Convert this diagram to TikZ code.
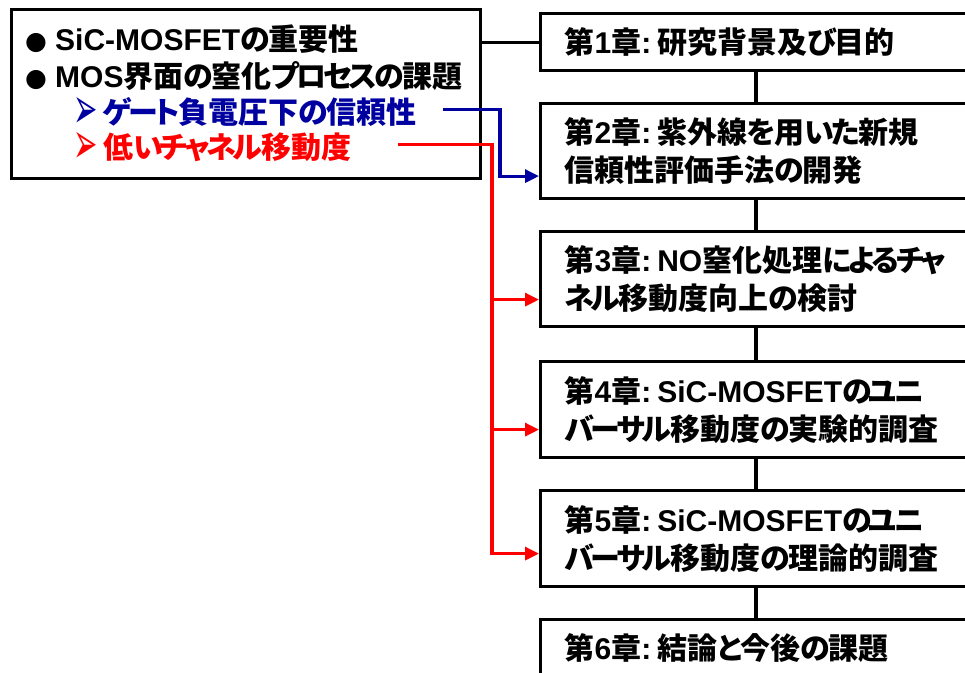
\documentclass[tikz,border=0pt]{standalone}
\usepackage{fontspec}
\usepackage{graphicx}
\setmainfont{Liberation Sans}
\newfontfamily\jpfont{Noto Sans CJK JP}[RawFeature=+palt]
\newfontfamily\symfont{DejaVu Sans}
\usetikzlibrary{arrows.meta}
\XeTeXinterchartokenstate=1
\newXeTeXintercharclass\jpclass
\newXeTeXintercharclass\kanaclass
\count255="3000
\loop
  \XeTeXcharclass\count255=\jpclass
  \advance\count255 by 1
\ifnum\count255<"A000 \repeat
\count255="3041
\loop
  \XeTeXcharclass\count255=\kanaclass
  \advance\count255 by 1
\ifnum\count255<"3100 \repeat
\count255="FF00
\loop
  \XeTeXcharclass\count255=\jpclass
  \advance\count255 by 1
\ifnum\count255<"FFF0 \repeat
\XeTeXinterchartoks 0 \jpclass = {\jpfont}
\XeTeXinterchartoks 4095 \jpclass = {\jpfont}
\XeTeXinterchartoks \jpclass 0 = {\rmfamily}
\XeTeXinterchartoks 0 \kanaclass = {\jpfont}
\XeTeXinterchartoks 4095 \kanaclass = {\jpfont}
\XeTeXinterchartoks \kanaclass 0 = {\kern-3pt\rmfamily}
\XeTeXinterchartoks \kanaclass \kanaclass = {\kern-3.2pt}
\XeTeXinterchartoks \kanaclass \jpclass = {\kern-1.5pt}
\definecolor{navyb}{RGB}{0,0,160}
\definecolor{redc}{RGB}{255,0,0}
\newcommand\dotbul{\makebox[30pt][l]{\raisebox{1pt}{\fontsize{25}{25}\selectfont\symfont ●}}}
\newcommand\arrbul{\makebox[30pt][l]{\smash{\raisebox{-5pt}{\scalebox{0.56}[1.12]{\fontsize{52}{52}\selectfont\symfont ➢}}}}}
\newcommand\csep{:\kern6pt}
\begin{document}
\begin{tikzpicture}[x=1pt,y=-1pt,
  font=\fontsize{30}{38}\selectfont\bfseries,
  chap/.style={draw, line width=3.2pt, anchor=north west, text width=420pt,
    inner xsep=24pt, inner ysep=0pt, align=left},
  leftbox/.style={draw, line width=3.2pt, anchor=north west, inner sep=0pt},
  item/.style={anchor=base west, inner sep=0pt},
  link/.style={line width=3.2pt},
  tip/.style={-{Triangle[length=14pt,width=13pt]}},
  blueline/.style={link, navyb, line join=miter},
  redline/.style={link, redc, line join=miter}]
\useasboundingbox (0,0) rectangle (965,672);
\clip (0,0) rectangle (965,672);

% left box
\node[leftbox, minimum width=469pt, minimum height=169pt] (L) at (10,8) {};
\node[item] (t1) at (25,50) {\dotbul SiC-MOSFETの重要性};
\node[item] (t2) at (25,87) {\dotbul MOS界面の窒化プロセスの課題};
\node[item, text=navyb] (t3) at (73,123) {\arrbul ゲート負電圧下の信頼性};
\node[item, text=redc] (t4) at (73,158) {\arrbul 低いチャネル移動度};

% chapter boxes
\node[chap, minimum height=57pt] (C1) at (539,12) {第1章\csep 研究背景及び目的};
\node[chap, minimum height=95pt] (C2) at (539,102) {第2章\csep 紫外線を用いた新規\\信頼性評価手法の開発};
\node[chap, minimum height=95pt] (C3) at (539,230) {第3章\csep NO窒化処理によるチャ\\ネル移動度向上の検討};
\node[chap, minimum height=96pt] (C4) at (539,360) {第4章\csep SiC-MOSFETのユニ\\バーサル移動度の実験的調査};
\node[chap, minimum height=96pt] (C5) at (539,489) {第5章\csep SiC-MOSFETのユニ\\バーサル移動度の理論的調査};
\node[chap, minimum height=57pt] (C6) at (539,618) {第6章\csep 結論と今後の課題};

% helper coordinates
\coordinate (spine) at (756,0);
\coordinate (bs) at (443,109.5);
\coordinate (rs) at (398,144.5);
\coordinate (rx) at (492,0);
\coordinate (b2) at ([yshift=-25pt]C2.west);
\coordinate (r3) at ([yshift=-20.5pt]C3.west);
\coordinate (r4) at ([yshift=-20pt]C4.west);
\coordinate (r5) at ([yshift=-15pt]C5.west);

% black connectors
\draw[link] (L.east |- C1.west) -- (C1.west);
\draw[link] (C1.south -| spine) -- (C2.north -| spine);
\draw[link] (C2.south -| spine) -- (C3.north -| spine);
\draw[link] (C3.south -| spine) -- (C4.north -| spine);
\draw[link] (C4.south -| spine) -- (C5.north -| spine);
\draw[link] (C5.south -| spine) -- (C6.north -| spine);

% blue connector
\draw[blueline, tip] (bs) -- ++(57,0) |- (b2);

% red connectors
\draw[redline, tip] (rs) -| (rx |- r5) -- (r5);
\draw[redline, tip] (rx |- r3) -- (r3);
\draw[redline, tip] (rx |- r4) -- (r4);
\end{tikzpicture}
\end{document}
